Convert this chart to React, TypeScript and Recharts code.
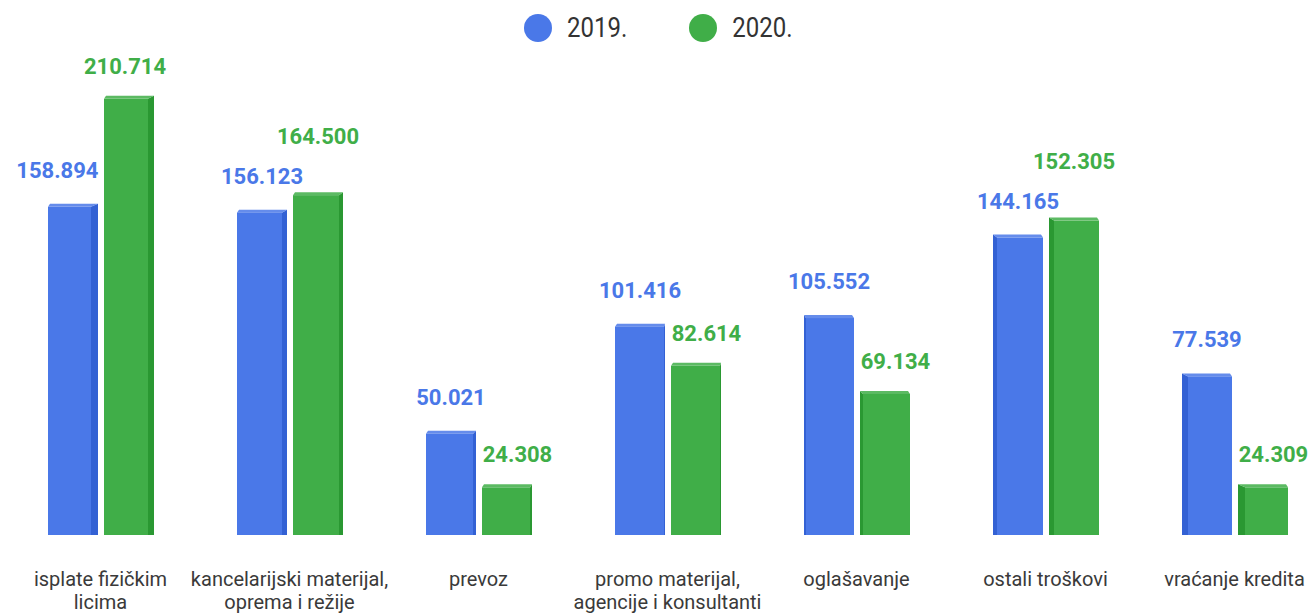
import React from 'react';
import { BarChart, Bar, XAxis, YAxis, LabelList } from 'recharts';

const categories = [
  'isplate fizičkim\nlicima',
  'kancelarijski materijal,\noprema i režije',
  'prevoz',
  'promo materijal,\nagencije i konsultanti',
  'oglašavanje',
  'ostali troškovi',
  'vraćanje kredita',
];
const values2019 = [158.894, 156.123, 50.021, 101.416, 105.552, 144.165, 77.539];
const values2020 = [210.714, 164.5, 24.308, 82.614, 69.134, 152.305, 24.309];
const seriesNames = ['2019.', '2020.'];

const BLUE = '#4a78e8';
const BLUE_SIDE = '#3361d4';
const GREEN = '#40ae48';
const GREEN_SIDE = '#2a9832';

const CHART_W = 1336;
const CENTER_X = 668;
const BAR_SIZE = 50;
const BAR_GAP = 6;

const data = categories.map((name, i) => ({
  name,
  v2019: values2019[i],
  v2020: values2020[i],
}));

const fmt = (v: number) => v.toFixed(3);
const textWidth = (s: string) => s.replace('.', '').length * 12.2 + 6;

const makeShape = (fill: string, side: string) => (props: any) => {
  const { x, y, width, height } = props;
  if (!height || height <= 0) return null;
  const cx = x + width / 2;
  const s = Math.round(((CENTER_X - cx) / CENTER_X) * 8);
  const top = 3;
  if (s >= 0) {
    const sw = Math.max(s, 1);
    return (
      <g>
        <rect x={x} y={y + top} width={width - sw} height={height - top} fill={fill} />
        <polygon
          points={`${x + width - sw},${y + top} ${x + width},${y} ${x + width},${y + height} ${x + width - sw},${y + height}`}
          fill={side}
        />
        <polygon
          points={`${x},${y + top} ${x + 2},${y} ${x + width},${y} ${x + width - sw},${y + top}`}
          fill={fill}
          opacity={0.85}
        />
      </g>
    );
  }
  const sw = -s;
  return (
    <g>
      <rect x={x + sw} y={y + top} width={width - sw} height={height - top} fill={fill} />
      <polygon
        points={`${x},${y} ${x + sw},${y + top} ${x + sw},${y + height} ${x},${y + height}`}
        fill={side}
      />
      <polygon
        points={`${x},${y} ${x + width - 2},${y} ${x + width},${y + top} ${x + sw},${y + top}`}
        fill={fill}
        opacity={0.85}
      />
    </g>
  );
};

// label placement: above the bar, pushed aside when the neighbour bar is in the way
const placeLabels = (i: number, blueX: number, baseline: number, pxPerUnit: number) => {
  const greenX = blueX + BAR_SIZE + BAR_GAP;
  const blueTop = baseline - values2019[i] * pxPerUnit;
  const greenTop = baseline - values2020[i] * pxPerUnit;
  const bText = fmt(values2019[i]);
  const gText = fmt(values2020[i]);
  const bw = textWidth(bText);
  const gw = textWidth(gText);

  let bcx = blueX + BAR_SIZE / 2;
  const bcy = blueTop - 34;
  if (greenTop < bcy + 9 && bcx + bw / 2 > greenX - 7) bcx = greenX - 7 - bw / 2;

  let gcx = greenX + BAR_SIZE / 2;
  let gcy = greenTop - 30;
  if (Math.abs(gcy - bcy) < 30) gcy = bcy - 40;
  if (blueTop < gcy + 9 && gcx - gw / 2 < blueX + BAR_SIZE + 8) gcx = blueX + BAR_SIZE + 8 + gw / 2;
  if (greenTop < bcy + 9 && gcy < bcy) gcx -= 4;

  return { bcx, bcy, gcx, gcy, bText, gText };
};

const makeLabel = (series: 0 | 1, color: string) => (props: any) => {
  const { x, y, height, value, index } = props;
  if (!value) return null;
  const baseline = y + height;
  const pxPerUnit = height / value;
  const blueX = series === 0 ? x : x - BAR_SIZE - BAR_GAP;
  const p = placeLabels(index, blueX, baseline, pxPerUnit);
  const cx = series === 0 ? p.bcx : p.gcx;
  const cy = series === 0 ? p.bcy : p.gcy;
  return (
    <text
      x={cx}
      y={cy + 8}
      textAnchor="middle"
      fill={color}
      fontSize={22}
      fontWeight={700}
      fontFamily="Roboto"
    >
      {series === 0 ? p.bText : p.gText}
    </text>
  );
};

const CategoryTick = (props: any) => {
  const { x, y, payload } = props;
  const lines = String(payload.value).split('\n');
  return (
    <text x={x} y={y} textAnchor="middle" fill="#3a3a3a" fontSize={20} fontFamily="Roboto">
      {lines.map((line, i) => (
        <tspan key={i} x={x} dy={i === 0 ? 43 : 23}>
          {line}
        </tspan>
      ))}
    </text>
  );
};

const legendColors = [BLUE, GREEN];

const App: React.FC = () => {
  return (
    <div style={{ position: 'absolute', left: 0, top: 0, width: 1308, height: 616, overflow: 'hidden', background: '#fff' }}>
      <div
        style={{
          position: 'absolute',
          top: 14,
          left: 524,
          display: 'flex',
          alignItems: 'center',
          fontFamily: 'Roboto',
          fontSize: 24,
          color: '#333',
        }}
      >
        {seriesNames.map((n, i) => (
          <div key={n} style={{ display: 'flex', alignItems: 'center', marginRight: i === 0 ? 62 : 0 }}>
            <span
              style={{
                width: 28,
                height: 28,
                borderRadius: 14,
                background: legendColors[i],
                display: 'inline-block',
                marginRight: 15,
              }}
            />
            <span style={{ display: 'inline-block', transform: 'scaleY(1.17)', lineHeight: '28px' }}>{n}</span>
          </div>
        ))}
      </div>
      <BarChart
        width={CHART_W}
        height={616}
        data={data}
        margin={{ top: 14, right: 7, bottom: 0, left: 6 }}
        barCategoryGap="22%"
        barGap={BAR_GAP}
      >
        <XAxis dataKey="name" axisLine={false} tickLine={false} interval={0} height={81} tick={<CategoryTick />} />
        <YAxis hide domain={[0, 250]} />
        <Bar dataKey="v2019" name={seriesNames[0]} fill={BLUE} barSize={BAR_SIZE} isAnimationActive={false} shape={makeShape(BLUE, BLUE_SIDE)}>
          <LabelList dataKey="v2019" content={makeLabel(0, BLUE)} />
        </Bar>
        <Bar dataKey="v2020" name={seriesNames[1]} fill={GREEN} barSize={BAR_SIZE} isAnimationActive={false} shape={makeShape(GREEN, GREEN_SIDE)}>
          <LabelList dataKey="v2020" content={makeLabel(1, GREEN)} />
        </Bar>
      </BarChart>
    </div>
  );
};

export default App;
